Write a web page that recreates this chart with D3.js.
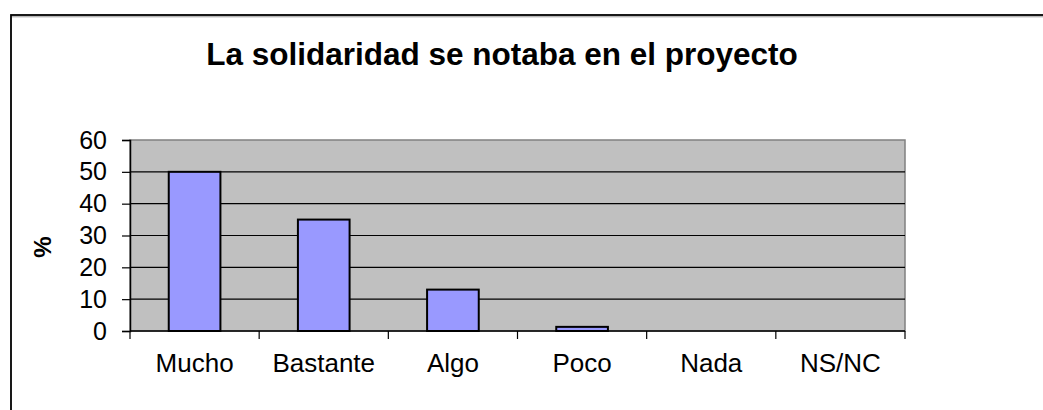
<!DOCTYPE html>
<html lang="en">
  <head>
    <meta charset="utf-8" />
    <script src="https://cdn.jsdelivr.net/npm/d3@7/dist/d3.min.js"></script>
    <title>La solidaridad se notaba en el proyecto</title>
    <style>
      body { margin: 0; background: #fff; }
      text { font-family: "Liberation Sans", Arial, sans-serif; fill: #000; }
    </style>
  </head>
  <body>
    <div id="container"></div>

    <script>
      const categories = ["Mucho", "Bastante", "Algo", "Poco", "Nada", "NS/NC"];
      const values = [50, 35, 13, 1.3, 0, 0];
      const yTicks = [0, 10, 20, 30, 40, 50, 60];
      const title = "La solidaridad se notaba en el proyecto";
      const yLabel = "%";

      const width = 1043;
      const height = 410;
      const plot = { left: 130, right: 905, top: 140, bottom: 331 };

      const svg = d3.select("#container").append("svg").attr("width", width).attr("height", height);
      svg.append("rect").attr("width", width).attr("height", height).attr("fill", "#fff");

      // outer chart frame (runs off the right and bottom edges)
      svg.append("rect")
        .attr("x", 11).attr("y", 15)
        .attr("width", width + 20).attr("height", height + 20)
        .attr("fill", "none").attr("stroke", "#000").attr("stroke-width", 1.8);
      svg.append("line").attr("x1", 12).attr("x2", width).attr("y1", 16.8).attr("y2", 16.8)
        .attr("stroke", "#999").attr("stroke-width", 1);

      const x = d3.scaleBand().domain(categories).range([plot.left, plot.right])
        .paddingInner(0.6).paddingOuter(0.3);
      const xEdge = d3.scaleLinear().domain([0, categories.length]).range([plot.left, plot.right]);
      const y = d3.scaleLinear().domain([0, 60]).range([plot.bottom, plot.top]);

      // plot background
      svg.append("rect")
        .attr("x", plot.left).attr("y", y(60))
        .attr("width", plot.right - plot.left).attr("height", y(0) - y(60))
        .attr("fill", "#c0c0c0").attr("stroke", "#808080").attr("stroke-width", 1.5);

      // gridlines
      svg.append("g")
        .selectAll("line")
        .data(yTicks.filter(d => d > 0 && d < 60))
        .join("line")
        .attr("x1", plot.left).attr("x2", plot.right)
        .attr("y1", d => y(d)).attr("y2", d => y(d))
        .attr("stroke", "#000").attr("stroke-width", 1.2);

      // bars
      svg.append("g")
        .selectAll("rect")
        .data(categories.map((c, i) => ({ c, v: values[i] })).filter(d => d.v > 0))
        .join("rect")
        .attr("x", d => x(d.c))
        .attr("y", d => y(d.v))
        .attr("width", x.bandwidth())
        .attr("height", d => y(0) - y(d.v))
        .attr("fill", "#9999ff")
        .attr("stroke", "#000")
        .attr("stroke-width", 2);

      // y axis
      const yAxis = svg.append("g")
        .attr("transform", `translate(${plot.left},0)`)
        .call(d3.axisLeft(y).tickValues(yTicks).tickSize(8).tickPadding(15));
      yAxis.select(".domain").attr("stroke", "#000").attr("stroke-width", 1.5);
      yAxis.selectAll(".tick line").attr("stroke", "#000").attr("stroke-width", 1.2);
      yAxis.selectAll(".tick text")
        .attr("font-size", 25).attr("font-family", "Liberation Sans, Arial, sans-serif").attr("fill", "#000");

      // x axis
      svg.append("line")
        .attr("x1", plot.left).attr("x2", plot.right)
        .attr("y1", y(0)).attr("y2", y(0))
        .attr("stroke", "#000").attr("stroke-width", 1.5);
      svg.append("g")
        .selectAll("line")
        .data(d3.range(categories.length + 1))
        .join("line")
        .attr("x1", d => xEdge(d)).attr("x2", d => xEdge(d))
        .attr("y1", y(0)).attr("y2", y(0) + 8)
        .attr("stroke", "#000").attr("stroke-width", 1.2);
      svg.append("g")
        .selectAll("text")
        .data(categories)
        .join("text")
        .attr("x", d => x(d) + x.bandwidth() / 2)
        .attr("y", 372)
        .attr("text-anchor", "middle")
        .attr("font-size", 26)
        .text(d => d);

      // y label
      svg.append("text")
        .attr("transform", "translate(51,247) rotate(-90)")
        .attr("text-anchor", "middle")
        .attr("font-size", 24)
        .attr("font-weight", "bold")
        .text(yLabel);

      // title
      svg.append("text")
        .attr("x", 502).attr("y", 65)
        .attr("text-anchor", "middle")
        .attr("font-size", 31.5)
        .attr("font-weight", "bold")
        .text(title);
    </script>
  </body>
</html>
